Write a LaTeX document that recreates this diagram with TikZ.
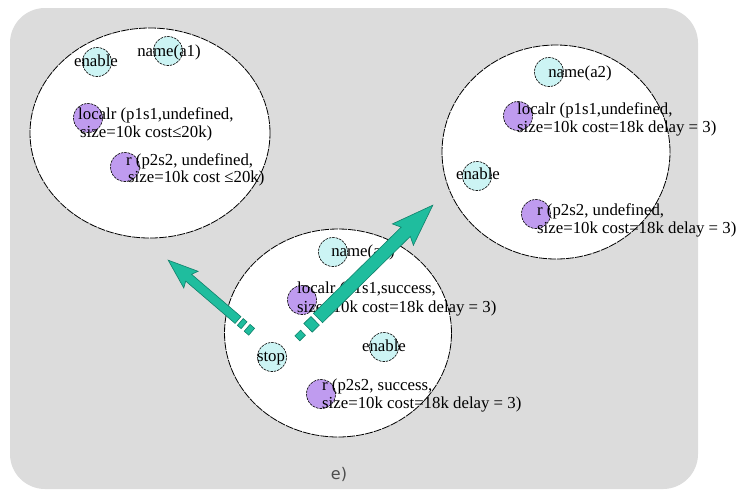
\documentclass[tikz,border=0pt]{standalone}
\usepackage{fontspec}
\setmainfont{Liberation Serif}
\newfontfamily\labelfont{DejaVu Sans}
\usetikzlibrary{shapes.geometric}
\definecolor{bg}{HTML}{DCDCDC}
\definecolor{cyanfill}{HTML}{CCF4F4}
\definecolor{purplefill}{HTML}{BF9BEF}
\definecolor{arrowfill}{HTML}{1FBD9E}
\definecolor{arrowline}{HTML}{10806A}
\begin{document}
\begin{tikzpicture}[x=1pt,y=-1pt,
  bigc/.style={ellipse, draw=black, fill=white, line width=0.8pt, dash pattern=on 8pt off 1pt, inner sep=0},
  cy/.style={circle, draw=black, fill=cyanfill, dash pattern=on 2.5pt off 1pt, line width=0.6pt, minimum size=29pt, inner sep=0},
  pu/.style={circle, draw=black, fill=purplefill, dash pattern=on 2.5pt off 1pt, line width=0.6pt, minimum size=29pt, inner sep=0},
  txt/.style={font=\fontsize{16.8}{17}\selectfont, inner sep=0, anchor=base west},
  ctxt/.style={font=\fontsize{16.8}{17}\selectfont, inner sep=0, anchor=base},
  arr/.style={fill=arrowfill, draw=arrowline, line width=0.6pt, line join=miter}]
\useasboundingbox (0,0) rectangle (738,491);
\fill[bg, rounded corners=35pt] (10,8) rectangle (698,489);

% big circles
\node[bigc, minimum width=240pt, minimum height=210pt] (c1) at (150,133) {};
\node[bigc, minimum width=228pt, minimum height=214pt] (c2) at (556,152) {};
\node[bigc, minimum width=227pt, minimum height=208pt] (c3) at (338,333) {};

% circle 1 contents
\node[cy] (c1en) at (97,62) {};
\node[cy] (c1nm) at (168,51) {};
\node[pu] (c1lo) at (88,118) {};
\node[pu] (c1r) at (125,167) {};
\node[ctxt] (t1en) at (96,66) {enable};
\node[ctxt] (t1nm) at (169,56) {name(a1)};
\node[txt] (t1lo1) at (78,119) {localr (p1s1,undefined,};
\node[txt] (t1lo2) at (80,137) {size=10k cost≤20k)};
\node[txt] (t1r1) at (126,165) {r (p2s2, undefined,};
\node[txt] (t1r2) at (128,182) {size=10k cost ≤20k)};

% circle 2 contents
\node[cy] (c2nm) at (549,72) {};
\node[pu] (c2lo) at (518,116) {};
\node[cy] (c2en) at (477,176) {};
\node[pu] (c2r) at (536,214) {};
\node[ctxt] (t2nm) at (580,77) {name(a2)};
\node[txt] (t2lo1) at (517,114) {localr (p1s1,undefined,};
\node[txt] (t2lo2) at (517,132) {size=10k cost=18k delay = 3)};
\node[ctxt] (t2en) at (478,179) {enable};
\node[txt] (t2r1) at (537,215) {r (p2s2, undefined,};
\node[txt] (t2r2) at (537,233) {size=10k cost=18k delay = 3)};

% circle 3 contents
\node[cy] (c3nm) at (333,252) {};
\node[pu] (c3lo) at (302,300) {};
\node[cy] (c3st) at (272,357) {};
\node[cy] (c3en) at (384,347) {};
\node[pu] (c3r) at (321,394) {};
\node[ctxt] (t3nm) at (363,256) {name(a1)};
\node[txt] (t3lo1) at (297,293) {localr (p1s1,success,};
\node[txt] (t3lo2) at (297,312) {size=10k cost=18k delay = 3)};
\node[ctxt] (t3st) at (271,361) {stop};
\node[ctxt] (t3en) at (384,351) {enable};
\node[txt] (t3r1) at (322,390) {r (p2s2, success,};
\node[txt] (t3r2) at (322,408) {size=10k cost=18k delay = 3)};

% label
\node[font=\labelfont\fontsize{16}{18}\selectfont, text=black!70, inner sep=0, anchor=base] (lab) at (339,479) {e)};

% arrows
\coordinate (a1tail) at (238,320);
\coordinate (a2tail) at (318,318);
\begin{scope}[shift={(a1tail)}, rotate=139.4]
  \draw[arr] (0,-4.5) -- (65,-4.5) -- (62,-11) -- (92,0) -- (62,11) -- (65,4.5) -- (0,4.5) -- cycle;
  \draw[arr] (-3,-4.5) rectangle (-8,4.5);
  \draw[arr] (-12,-4.5) rectangle (-18,4.5);
\end{scope}
\begin{scope}[shift={(a2tail)}, rotate=44.5]
  \draw[arr] (0,-6.5) -- (123,-6.5) -- (119,-15) -- (161,0) -- (119,15) -- (123,6.5) -- (0,6.5) -- cycle;
  \draw[arr] (-4,-6) rectangle (-14,6);
  \draw[arr] (-21,-3.5) rectangle (-29,3.5);
\end{scope}
\end{tikzpicture}
\end{document}
